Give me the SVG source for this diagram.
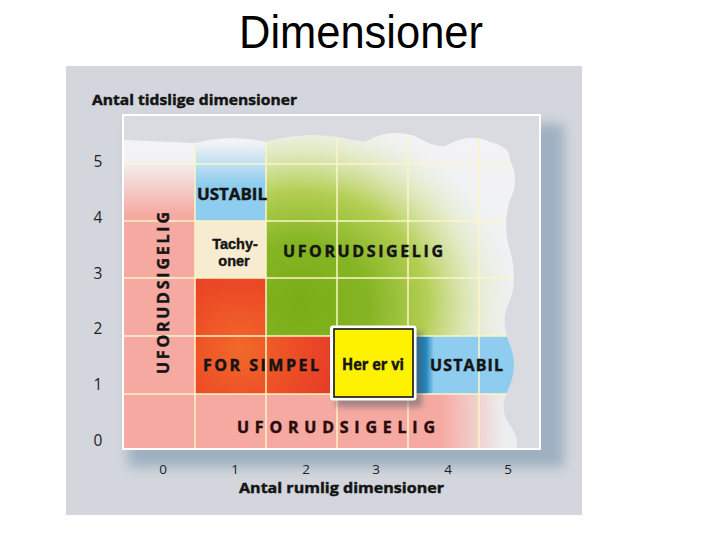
<svg xmlns="http://www.w3.org/2000/svg" width="720" height="540" viewBox="0 0 720 540">
<style>
.lbl{font-family:"Open Sans","DejaVu Sans",sans-serif;font-weight:700;fill:#141414;stroke:#141414;stroke-width:0.45;paint-order:stroke}
.tach{font-family:"Liberation Sans",Arial,sans-serif;font-weight:700;fill:#141414;stroke:#141414;stroke-width:0.4;paint-order:stroke}
.num{font-family:"Open Sans","DejaVu Sans",sans-serif;font-weight:400;fill:#222}
.grid line{stroke:#fbf6c6;stroke-width:1.5}
</style>
<defs>
<filter id="blur6" x="-20%" y="-20%" width="140%" height="140%"><feGaussianBlur stdDeviation="6"/></filter>
<filter id="blur3" x="-30%" y="-30%" width="160%" height="160%"><feGaussianBlur stdDeviation="3"/></filter>
<clipPath id="wave"><path id="wavePath" d="M123,140 L195,143 Q230,134 266,142 Q300,132 337,137 Q352,140 365,142 Q390,128 415,136 Q430,146 445,146 Q470,132 490,142 Q510,146 510,160 Q520,180 510,200 Q502,225 510,250 Q518,280 510,300 Q500,320 508,340 Q520,365 508,390 Q498,410 510,425 Q520,440 516,449 L123,449 Z"/></clipPath>
<radialGradient id="green" gradientUnits="userSpaceOnUse" cx="300" cy="305" r="220" gradientTransform="translate(300 305) scale(1 0.9) translate(-300 -305)">
<stop offset="0" stop-color="#78ad17"/>
<stop offset="0.32" stop-color="#86b524"/>
<stop offset="0.58" stop-color="#b4cf55"/>
<stop offset="0.8" stop-color="#dfe8b8" stop-opacity="0.7"/>
<stop offset="1" stop-color="#eeeff1" stop-opacity="0"/>
</radialGradient>
<radialGradient id="red" gradientUnits="userSpaceOnUse" cx="240" cy="350" r="120">
<stop offset="0" stop-color="#f2692a"/>
<stop offset="0.45" stop-color="#ed4e26"/>
<stop offset="1" stop-color="#e23428"/>
</radialGradient>
<linearGradient id="pinkV" gradientUnits="userSpaceOnUse" x1="0" y1="160" x2="0" y2="215">
<stop offset="0" stop-color="#f6a9a1" stop-opacity="0"/>
<stop offset="1" stop-color="#f6a9a1"/>
</linearGradient>
<linearGradient id="pinkH" gradientUnits="userSpaceOnUse" x1="440" y1="0" x2="505" y2="0">
<stop offset="0" stop-color="#f6a9a1"/>
<stop offset="1" stop-color="#f6a9a1" stop-opacity="0"/>
</linearGradient>
<linearGradient id="blueV" gradientUnits="userSpaceOnUse" x1="0" y1="142" x2="0" y2="185">
<stop offset="0" stop-color="#8ecdef" stop-opacity="0"/>
<stop offset="1" stop-color="#8ecdef"/>
</linearGradient>
<linearGradient id="blueBand" gradientUnits="userSpaceOnUse" x1="414" y1="0" x2="434" y2="0">
<stop offset="0" stop-color="#0a6aa2"/>
<stop offset="0.6" stop-color="#2288c2"/>
<stop offset="1" stop-color="#8ecdef"/>
</linearGradient>
<linearGradient id="inner" x1="0" y1="0" x2="0" y2="1">
<stop offset="0" stop-color="#f3f3f5"/>
<stop offset="1" stop-color="#eceef0"/>
</linearGradient>
</defs>

<rect x="0" y="0" width="720" height="540" fill="#ffffff"/>
<text x="361" y="48" text-anchor="middle" font-family="'Liberation Sans',Arial,sans-serif" font-size="46" textLength="244" lengthAdjust="spacingAndGlyphs" fill="#000">Dimensioner</text>

<g id="panel">
<rect x="66" y="66" width="516" height="449" fill="#d3d6dc"/>
<rect x="128" y="124" width="436" height="343" fill="#9eb0c1" filter="url(#blur6)"/>
<rect x="123" y="115" width="417" height="334" fill="#d9dbe0" stroke="#ffffff" stroke-width="2"/>
</g>

<g id="regions" clip-path="url(#wave)">
<rect x="123" y="130" width="400" height="320" fill="url(#inner)"/>
<rect x="266" y="125" width="260" height="211" fill="url(#green)"/>
<rect x="195" y="130" width="71" height="91" fill="url(#blueV)"/>
<rect x="123" y="140" width="72" height="254" fill="url(#pinkV)"/>
<rect x="123" y="394" width="400" height="56" fill="url(#pinkH)"/>
<rect x="195" y="221" width="71" height="57" fill="#f7ebd0"/>
<path d="M195,278 H266 V336 H337 V394 H195 Z" fill="url(#red)"/>
<rect x="414" y="336" width="110" height="58" fill="#8ecdef"/>
<rect x="414" y="336" width="20" height="58" fill="url(#blueBand)"/>
</g>

<g id="grid" class="grid" clip-path="url(#wave)">
<line x1="195" y1="120" x2="195" y2="449"/>
<line x1="266" y1="120" x2="266" y2="449"/>
<line x1="337" y1="120" x2="337" y2="449"/>
<line x1="408" y1="120" x2="408" y2="449"/>
<line x1="479" y1="120" x2="479" y2="449"/>
<line x1="123" y1="164" x2="530" y2="164"/>
<line x1="123" y1="221" x2="530" y2="221"/>
<line x1="123" y1="278" x2="530" y2="278"/>
<line x1="123" y1="336" x2="530" y2="336"/>
<line x1="123" y1="394" x2="530" y2="394"/>
</g>
<rect x="123" y="115" width="417" height="334" fill="none" stroke="#ffffff" stroke-width="2"/>

<g id="here">
<rect x="336" y="331" width="86" height="76" fill="#5a626c" opacity="0.55" filter="url(#blur3)"/>
<rect x="330" y="325.5" width="86.5" height="75" rx="3" fill="#ffffff"/>
<rect x="334" y="329" width="79" height="68" fill="#fff200" stroke="#111" stroke-width="1.6"/>
<text class="lbl" x="342" y="370" font-size="15.5" textLength="62" lengthAdjust="spacingAndGlyphs">Her er vi</text>
</g>

<g id="labels">
<text class="lbl" x="92" y="105" font-size="15" textLength="205" lengthAdjust="spacingAndGlyphs">Antal tidslige dimensioner</text>
<text class="lbl" transform="translate(168.5,374) rotate(-90)" x="0" y="0" font-size="16" textLength="162" lengthAdjust="spacing">UFORUDSIGELIG</text>
<text class="lbl" x="197" y="200" font-size="16" textLength="70" lengthAdjust="spacingAndGlyphs">USTABIL</text>
<text class="tach" font-size="14.5" text-anchor="middle"><tspan x="235" y="249">Tachy-</tspan><tspan x="234" y="266">oner</tspan></text>
<text class="lbl" x="283" y="257" font-size="16" textLength="160" lengthAdjust="spacing">UFORUDSIGELIG</text>
<text class="lbl" x="203" y="371" font-size="16" textLength="116" lengthAdjust="spacing">FOR SIMPEL</text>
<text class="lbl" x="430" y="371" font-size="16" textLength="73" lengthAdjust="spacing">USTABIL</text>
<text class="lbl" x="237" y="433" font-size="16" textLength="198" lengthAdjust="spacing" style="fill:#2a0a0a;stroke:#2a0a0a">UFORUDSIGELIG</text>
<text class="lbl" x="239" y="493" font-size="15" textLength="205" lengthAdjust="spacingAndGlyphs">Antal rumlig dimensioner</text>
</g>

<g id="yaxis" class="num" font-size="15.5" text-anchor="middle">
<text x="98" y="167">5</text>
<text x="98" y="223">4</text>
<text x="98" y="279">3</text>
<text x="98" y="334">2</text>
<text x="98" y="390">1</text>
<text x="98" y="446">0</text>
</g>
<g id="xaxis" class="num" font-size="13.5" text-anchor="middle">
<text x="163" y="474">0</text>
<text x="235" y="474">1</text>
<text x="306" y="474">2</text>
<text x="376" y="474">3</text>
<text x="448" y="474">4</text>
<text x="508" y="474">5</text>
</g>
</svg>
